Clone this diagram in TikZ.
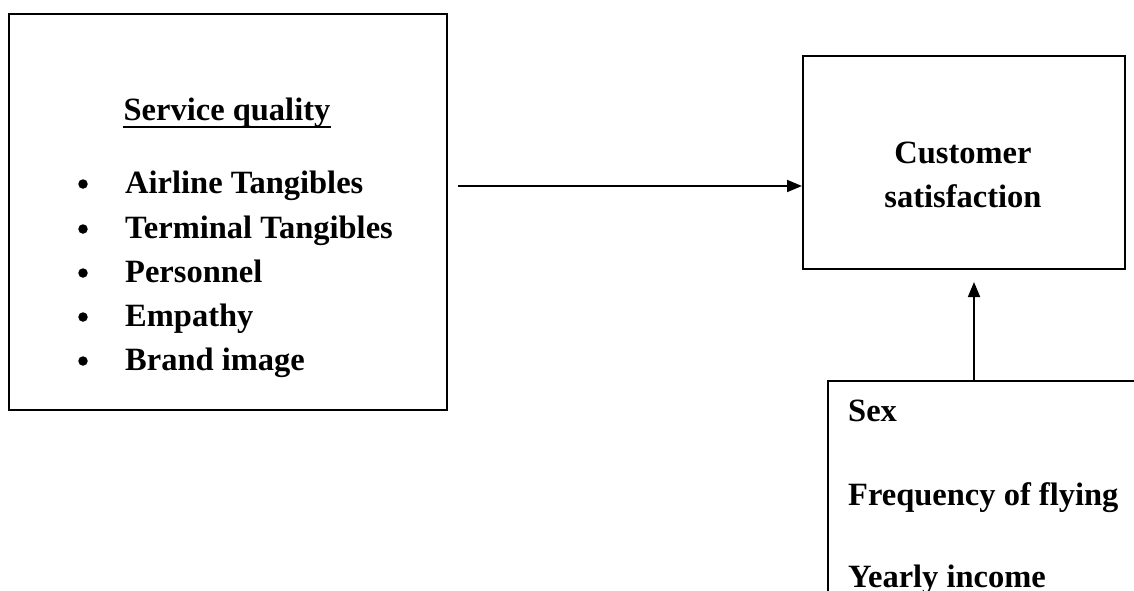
\documentclass[tikz,border=0pt]{standalone}
\usepackage{fontspec}
\setmainfont{Liberation Serif}
\usetikzlibrary{arrows.meta}
\tikzset{
  box/.style={draw, line width=1.8pt, anchor=north west, inner sep=0pt},
  lbl/.style={font=\fontsize{32.5}{42}\selectfont\bfseries, inner sep=0pt},
  bul/.style={circle, fill, inner sep=0pt, minimum size=9.5pt},
  conn/.style={line width=1.8pt, -{Triangle[length=15pt,width=12pt]}}
}
\begin{document}
\begin{tikzpicture}[x=1pt,y=-1pt]
\useasboundingbox (0,0) rectangle (1134,590);
\clip (0,0) rectangle (1134,590);
% boxes
\node[box, minimum width=438pt, minimum height=396pt] (sq) at (8,13) {};
\node[box, minimum width=322pt, minimum height=213pt] (cs) at (802,55) {};
\node[box, minimum width=340pt, minimum height=240pt] (dm) at (827,380) {};
% left box text
\node[lbl, anchor=base] (title) at (227,120) {Service quality};
\draw[line width=2pt] ([yshift=-7pt]title.base west) -- ([yshift=-7pt]title.base east);
\foreach \y/\t/\n in {193/Airline Tangibles/a, 238/Terminal Tangibles/b, 282/Personnel/c, 326/Empathy/d, 370/Brand image/e}{
  \node[lbl, anchor=base west] (item\n) at (125,\y) {\t};
  \node[bul] (bul\n) at (83,\y-9) {};
}
% right box text
\node[lbl, anchor=base] (cust) at (963,163) {Customer};
\node[lbl, anchor=base] (satis) at (963,207) {satisfaction};
% bottom box text
\node[lbl, anchor=base west] (sex) at (848,421) {Sex};
\node[lbl, anchor=base west] (freq) at (848,505) {Frequency of flying};
\node[lbl, anchor=base west] (inc) at (848,587) {Yearly income};
% connectors
\coordinate (hstart) at (458,186);
\coordinate (vtip) at (974,282);
\draw[conn] (hstart) -- (hstart -| cs.west);
\draw[conn] (dm.north west -| vtip) -- (vtip);
\end{tikzpicture}
\end{document}
